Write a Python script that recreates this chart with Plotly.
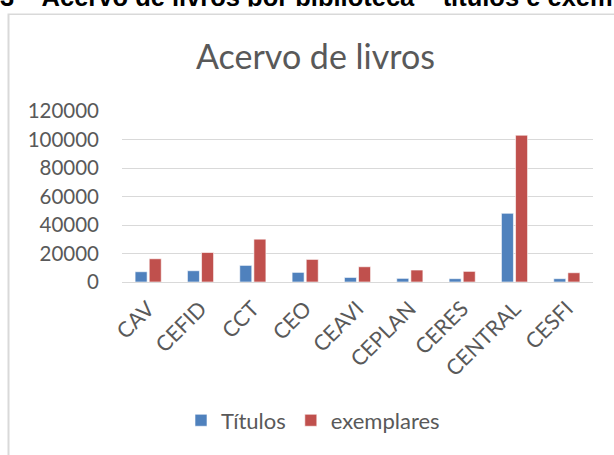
import plotly.graph_objects as go

categories = ["CAV", "CEFID", "CCT", "CEO", "CEAVI", "CEPLAN", "CERES", "CENTRAL", "CESFI"]
titulos = [7200, 7900, 11650, 6750, 3200, 2550, 2330, 48200, 2330]
exemplares = [16300, 20700, 30050, 15850, 10700, 8400, 7450, 103000, 6500]
y_ticks = [0, 20000, 40000, 60000, 80000, 100000, 120000]

W, H = 614, 455
L, R, T, B = 122, 593, 111, 282.3
pw, ph = R - L, B - T

def px(xp):
    return (xp - L) / pw

def py(yp):
    return (B - yp) / ph

GRAY = "#595959"
FONT = "Lato"

fig = go.Figure()
fig.add_trace(go.Bar(name="Títulos", x=categories, y=titulos,
                     marker=dict(color="#4F81BD", line=dict(color="#ffffff", width=0.6))))
fig.add_trace(go.Bar(name="exemplares", x=categories, y=exemplares,
                     marker=dict(color="#C0504D", line=dict(color="#ffffff", width=0.6))))

fig.update_layout(
    width=W, height=H,
    margin=dict(l=L, r=W - R, t=T, b=H - B, autoexpand=False),
    paper_bgcolor="white", plot_bgcolor="white",
    barmode="group", bargap=0.46, bargroupgap=0.15,
    font=dict(family=FONT, color=GRAY, size=20),
    showlegend=True,
    legend=dict(orientation="h", x=px(313), xanchor="center", y=py(421), yanchor="middle",
                font=dict(family=FONT, size=22, color=GRAY), itemwidth=30,
                bgcolor="rgba(0,0,0,0)"),
    xaxis=dict(tickangle=-45, tickfont=dict(family=FONT, size=21.5, color=GRAY),
               showgrid=False, showline=False, ticks="", zeroline=False,
               ticklabelstandoff=9),
    yaxis=dict(range=[0, 120000], tickvals=y_ticks, tickformat="d",
               tickfont=dict(family=FONT, size=20.5, color=GRAY),
               showgrid=True, gridcolor="#d9d9d9", gridwidth=1.3,
               zeroline=True, zerolinecolor="#d9d9d9", zerolinewidth=1.3,
               showline=False, ticks="", ticklabelstandoff=22),
)

fig.add_shape(type="rect", xref="paper", yref="paper",
              x0=px(8.5), y0=py(700), x1=px(800), y1=py(13.8),
              line=dict(color="#d9d9d9", width=2), fillcolor="rgba(0,0,0,0)", layer="below")

fig.add_annotation(text="Acervo de livros", xref="paper", yref="paper",
                   x=px(315), y=py(55), xanchor="center", yanchor="middle",
                   showarrow=False, font=dict(family=FONT, size=34, color=GRAY))

fig.add_annotation(text="<b>3 – Acervo de livros por biblioteca – títulos e exemplares</b>",
                   xref="paper", yref="paper",
                   x=px(-2), y=py(-3.5), xanchor="left", yanchor="middle",
                   showarrow=False, font=dict(family="Liberation Sans", size=25.5, color="#000000"))

# white strip where the chart image covers the heading's lower part
fig.add_annotation(text=" ", xref="paper", yref="paper",
                   x=px(307), y=py(9.6), xanchor="center", yanchor="middle",
                   width=700, height=6, borderpad=0, bgcolor="white",
                   showarrow=False, font=dict(size=4))

fig.write_html("out.html", config={"displayModeBar": False},
               post_script="document.body.style.margin='0';document.body.style.overflow='hidden';")
